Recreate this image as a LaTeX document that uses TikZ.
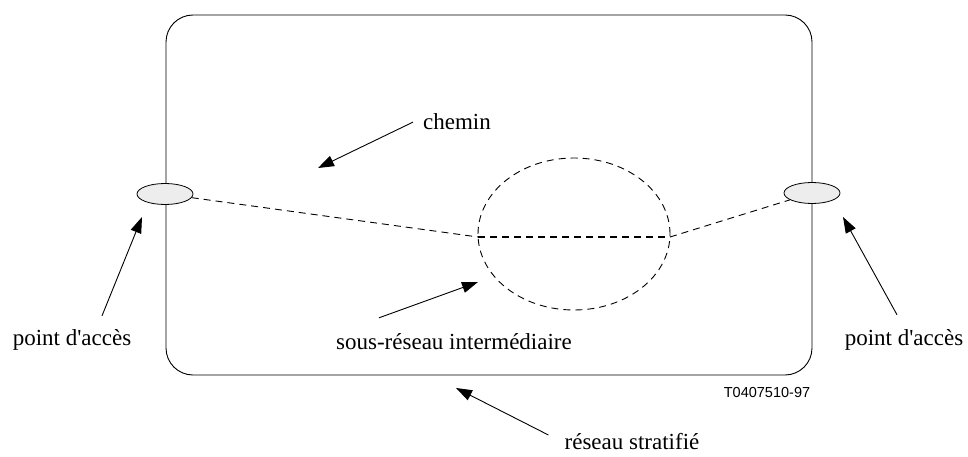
\documentclass[tikz,border=0pt]{standalone}
\usepackage{fontspec}
\setmainfont{Liberation Serif}[Ligatures=TeXOff]
\setsansfont{Liberation Sans}
\usetikzlibrary{arrows.meta,shapes.geometric}

\begin{document}
\begin{tikzpicture}[x=1pt, y=-1pt,
    lbl/.style={inner sep=0pt, anchor=base, font=\fontsize{23}{27}\selectfont},
    port/.style={ellipse, draw, line width=0.8pt, fill=gray!14, inner sep=0pt,
      minimum width=56pt, minimum height=21pt},
    path/.style={dashed, dash pattern=on 7pt off 5pt, line width=0.9pt},
    >={Triangle[length=16pt, width=11pt]}]
  \useasboundingbox (0, 0) rectangle (968, 457);
  \node [draw, line width=0.9pt, rounded corners=27pt, minimum width=646pt,
    minimum height=360pt, inner sep=0pt] (Net) at (489, 195) {};
  \node [ellipse, draw, path, minimum width=192pt, minimum height=152pt,
    inner sep=0pt] (Sub) at (574, 234) {};
  \node [port] (ApL) at (165, 194) {};
  \node [port] (ApR) at (812, 193) {};
  \coordinate (SubW) at (478, 237);
  \coordinate (SubE) at (670, 237);
  \node [lbl] (Chemin) at (457, 130) {chemin};
  \node [lbl] (AccL) at (72, 345) {point d'accès};
  \node [lbl] (AccR) at (904, 345) {point d'accès};
  \node [lbl] (SousR) at (454, 349) {sous-réseau intermédiaire};
  \node [lbl] (Strat) at (632, 449) {réseau stratifié};
  \node [inner sep=0pt, anchor=base, font=\sffamily\fontsize{14.5}{17}\selectfont]
    (Ref) at (767, 397) {T0407510-97};
  \coordinate (TChemin) at (318, 168);
  \coordinate (TAccL) at (142, 217);
  \coordinate (TAccR) at (843, 217);
  \coordinate (TSub) at (478, 282);
  \coordinate (TNet) at (456, 388);
  \draw [path] (ApL) -- (SubW);
  \draw [path, line width=1.7pt] (SubW) -- (SubE);
  \draw [path] (SubE) -- (ApR);
  \draw [->, line width=0.9pt] ([xshift=-10pt]Chemin.west) -- (TChemin);
  \draw [->, line width=0.9pt] ([xshift=30pt, yshift=13pt]AccL.north) -- (TAccL);
  \draw [->, line width=0.9pt] ([xshift=-7pt, yshift=14pt]AccR.north) -- (TAccR);
  \draw [->, line width=0.9pt] ([xshift=-75pt, yshift=15pt]SousR.north) -- (TSub);
  \draw [->, line width=0.9pt] ([xshift=-16pt, yshift=6pt]Strat.west) -- (TNet);
\end{tikzpicture}
\end{document}
